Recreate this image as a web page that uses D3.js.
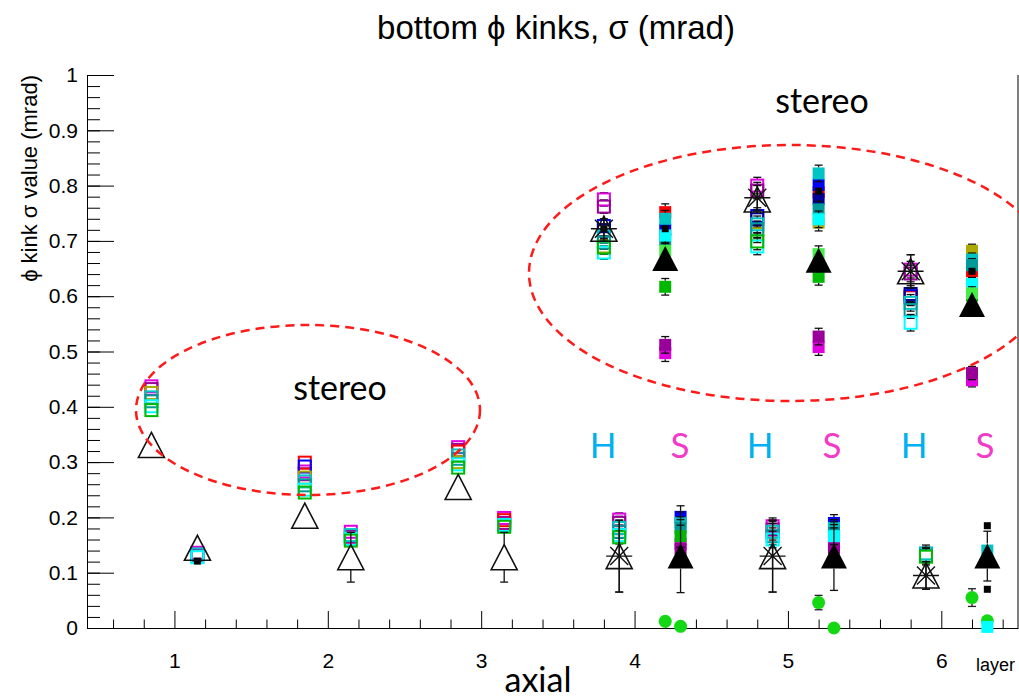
<!DOCTYPE html>
<html lang="en">
<head>
<meta charset="UTF-8">
<script src="https://cdn.jsdelivr.net/npm/d3@7"></script>
<style>
  body { margin: 0; background: #fff; }
  svg text { font-family: "Liberation Sans", Arial, sans-serif; }
  .note { font-family: Lato, "Open Sans", sans-serif; }
</style>
</head>
<body>
<div id="chart"></div>
<script>
// sensor positions on the layer axis (layer -/+ offset for the two sensors)
const sensorX    = [0.85, 1.15, 1.85, 2.15, 2.85, 3.15, 3.8, 3.9, 4.2, 4.3, 4.8, 4.9, 5.2, 5.3, 5.8, 5.9, 6.2, 6.3];
const sensorType = ['stereo','axial','stereo','axial','stereo','axial','H','H','S','S','H','H','S','S','H','H','S','S'];

// per-run sigma values (mrad), one entry per sensor, null = no point
const runMagenta  = [.437,.136,.283,.174,.327,.199,.775,.196,.497,.152,.800,.184,.508,.150,.648,null,.448,null];
const runPurple   = [.432,.131,.278,.165,.322,.190,.762,.190,.512,.143,.791,.178,.527,.144,.641,null,.461,null];
const runRed      = [null,null,.299,null,.319,.195,null,null,.752,null,null,null,.788,null,.598,null,.645,null];
const runBlue     = [null,null,.292,null,null,null,.727,null,.720,.201,.745,null,.801,.190,.600,null,null,null];
const runNavy     = [null,null,null,null,null,null,.719,null,null,null,.739,null,.776,null,.604,null,null,null];
const runOlive    = [.425,null,.272,null,.300,null,.690,null,null,null,.712,null,.733,null,null,null,.682,null];
const runTeal     = [.417,.133,.265,.168,.312,.186,.708,.181,.740,.190,.730,.174,.822,.181,.588,.135,.666,.140];
const runDarkTeal = [.410,null,.258,null,.306,null,.697,.174,.703,.181,.721,.166,.757,.172,.575,.131,.656,null];
const runCyan     = [.401,.128,.250,.161,.296,.186,.679,.168,.710,null,.690,.160,.739,.166,.552,null,.622,.002];
const runGreen    = [.394,null,.245,.158,.290,.183,.688,.164,.617,.166,.699,null,.635,null,null,.129,.601,null];
const runLime     = [null,null,null,null,null,null,null,null,.682,null,null,null,.676,null,null,null,.605,null];
const runBlack    = [null,.121,null,null,null,null,.722,null,.722,null,null,null,.790,null,null,null,.645,.185];
const runBlackLow = [null,null,null,null,null,null,null,null,null,null,null,null,null,null,null,null,null,.070];
const runErr      = [0,.010,0,.010,.005,.010,.012,.012,.015,.020,.015,.015,.015,.015,.015,.015,.012,0];

// averages
const openTri     = [.331,.145,.203,.128,.255,.128,.722,.130,null,null,.775,.130,null,null,.645,.095,null,null];
const openTriErr  = [0,0,0,.045,0,.045,.018,.065,0,0,.022,.065,0,0,.030,.025,0,0];
const filledTri   = [null,null,null,null,null,null,null,null,.668,.130,null,null,.665,.130,null,null,.585,.130];
const filledTriErr= [0,0,0,0,0,0,0,0,.022,.066,0,0,.020,.062,0,0,.010,.045];
const starVal     = [null,null,null,null,null,null,.722,.130,null,null,.778,.130,null,null,.645,.095,null,null];
const starErr     = [0,0,0,0,0,0,.018,.065,0,0,.022,.065,0,0,.030,.025,0,0];
const greenDot    = [null,null,null,null,null,null,null,null,.012,.003,null,null,.046,.000,null,null,.055,.013];
const greenDotErr = [0,0,0,0,0,0,0,0,.010,0,0,0,.013,0,0,0,.016,0];

const yTicks = [0, 0.1, 0.2, 0.3, 0.4, 0.5, 0.6, 0.7, 0.8, 0.9, 1];
const xTicks = [1, 2, 3, 4, 5, 6];

const runs = [runMagenta, runPurple, runRed, runBlue, runNavy, runOlive, runTeal, runDarkTeal, runCyan, runGreen, runLime];
const runColors = ['#e000e0', '#990099', '#ff0000', '#0000ff', '#000099', '#aaaa00', '#00c4c4', '#009a9a', '#00ffff', '#00b800', '#44ee44'];

const W = 1019, H = 698;
const x = d3.scaleLinear().domain([0.43, 6.5]).range([87, 1018]);
const y = d3.scaleLinear().domain([0, 1]).range([628, 75]);

const svg = d3.select('#chart').append('svg')
    .attr('width', W)
    .attr('height', H);

// frame right edge
svg.append('line')
    .attr('x1', 1018).attr('x2', 1018)
    .attr('y1', y(0)).attr('y2', y(1))
    .attr('stroke', '#000').attr('stroke-width', 1);

// axes
const fmt = d => d3.format('~g')(+d.toFixed(1));
svg.append('g')
    .attr('transform', 'translate(' + x(0.43) + ',0)')
    .call(d3.axisLeft(y).tickValues(yTicks).tickSize(-27).tickSizeOuter(0).tickPadding(9).tickFormat(fmt));
svg.append('g')
    .attr('transform', 'translate(' + x(0.43) + ',0)')
    .call(d3.axisLeft(y).tickValues(d3.range(0, 1.001, 0.02)).tickSize(-13).tickFormat(''))
    .call(g => g.select('.domain').remove());

svg.append('g')
    .attr('transform', 'translate(0,' + y(0) + ')')
    .call(d3.axisBottom(x).tickValues(xTicks).tickSize(-17).tickSizeOuter(0).tickPadding(25).tickFormat(d3.format('d')));
svg.append('g')
    .attr('transform', 'translate(0,' + y(0) + ')')
    .call(d3.axisBottom(x).tickValues(d3.range(0.6, 6.5, 0.2).filter(v => Math.abs(v - Math.round(v)) > 0.01)).tickSize(-8.5).tickFormat(''))
    .call(g => g.select('.domain').remove());

svg.selectAll('.tick text').style('font-size', '21px').attr('fill', '#000');
svg.selectAll('.domain, .tick line').attr('stroke', '#000');

// titles
svg.append('text')
    .attr('x', 556).attr('y', 39)
    .attr('text-anchor', 'middle')
    .style('font-size', '33px')
    .text('bottom \u03D5 kinks, \u03C3 (mrad)');

svg.append('text')
    .attr('transform', 'translate(37,75) rotate(-90)')
    .attr('text-anchor', 'end')
    .style('font-size', '22px')
    .text('\u03D5 kink \u03C3 value (mrad)');

svg.append('text')
    .attr('x', 1015).attr('y', 671)
    .attr('text-anchor', 'end')
    .style('font-size', '18px')
    .text('layer');

// error bars, skipping the marker area like ROOT does
function errBars(vals, errs, gap, color) {
    const g = svg.append('g').attr('stroke', color).attr('stroke-width', 1.3);
    vals.forEach((v, i) => {
        if (v === null || !errs[i]) return;
        const cx = x(sensorX[i]);
        const yc = y(v), yt = y(v + errs[i]), yb = y(v - errs[i]);
        if (yc - yt > gap) {
            g.append('line').attr('x1', cx).attr('x2', cx).attr('y1', yt).attr('y2', yc - gap);
            g.append('line').attr('x1', cx - 4).attr('x2', cx + 4).attr('y1', yt).attr('y2', yt);
        }
        if (yb - yc > gap) {
            g.append('line').attr('x1', cx).attr('x2', cx).attr('y1', yc + gap).attr('y2', yb);
            g.append('line').attr('x1', cx - 4).attr('x2', cx + 4).attr('y1', yb).attr('y2', yb);
        }
    });
}

// green circles
errBars(greenDot, greenDotErr, 6, '#222');
svg.append('g').selectAll('circle')
    .data(greenDot.map((v, i) => ({ v, i })).filter(d => d.v !== null))
    .enter().append('circle')
    .attr('cx', d => x(sensorX[d.i]))
    .attr('cy', d => y(d.v))
    .attr('r', 6.5)
    .attr('fill', '#14d814');

// runs: open squares for axial/stereo/H sensors, filled for S
runs.forEach((run, k) => {
    errBars(run, runErr, 6, '#111');
    svg.append('g').selectAll('rect')
        .data(run.map((v, i) => ({ v, i })).filter(d => d.v !== null))
        .enter().append('rect')
        .attr('x', d => x(sensorX[d.i]) - 6)
        .attr('y', d => y(d.v) - 6)
        .attr('width', 12)
        .attr('height', 12)
        .attr('fill', d => sensorType[d.i] === 'S' ? runColors[k] : 'none')
        .attr('stroke', runColors[k])
        .attr('stroke-width', d => sensorType[d.i] === 'S' ? 0 : 2);
});

[runBlack, runBlackLow].forEach(run => {
    svg.append('g').selectAll('rect')
        .data(run.map((v, i) => ({ v, i })).filter(d => d.v !== null))
        .enter().append('rect')
        .attr('x', d => x(sensorX[d.i]) - 3.5)
        .attr('y', d => y(d.v) - 3.5)
        .attr('width', 7)
        .attr('height', 7)
        .attr('fill', '#000');
});

// triangles
const tri = 'M0,-12.5L13,12.5L-13,12.5Z';
errBars(openTri, openTriErr, 12.5, '#111');
svg.append('g').selectAll('path')
    .data(openTri.map((v, i) => ({ v, i })).filter(d => d.v !== null))
    .enter().append('path')
    .attr('d', tri)
    .attr('transform', d => 'translate(' + x(sensorX[d.i]) + ',' + y(d.v) + ')')
    .attr('fill', 'none')
    .attr('stroke', '#111')
    .attr('stroke-width', 1.6);

errBars(filledTri, filledTriErr, 12.5, '#111');
svg.append('g').selectAll('path')
    .data(filledTri.map((v, i) => ({ v, i })).filter(d => d.v !== null))
    .enter().append('path')
    .attr('d', tri)
    .attr('transform', d => 'translate(' + x(sensorX[d.i]) + ',' + y(d.v) + ')')
    .attr('fill', '#000');

// asterisks
errBars(starVal, starErr, 0, '#111');
svg.append('g').selectAll('path')
    .data(starVal.map((v, i) => ({ v, i })).filter(d => d.v !== null))
    .enter().append('path')
    .attr('d', 'M-13,0H13M0,-13V13M-9,-9L9,9M-9,9L9,-9')
    .attr('transform', d => 'translate(' + x(sensorX[d.i]) + ',' + y(d.v) + ')')
    .attr('stroke', '#111')
    .attr('stroke-width', 1.4);

// slide annotations
const notes = svg.append('g').attr('class', 'note');
notes.append('ellipse')
    .attr('cx', 308).attr('cy', 410).attr('rx', 172).attr('ry', 85)
    .attr('fill', 'none').attr('stroke', '#ff1a1a').attr('stroke-width', 2.5).attr('stroke-dasharray', '9,6');
notes.append('ellipse')
    .attr('cx', 790).attr('cy', 273).attr('rx', 261).attr('ry', 128)
    .attr('fill', 'none').attr('stroke', '#ff1a1a').attr('stroke-width', 2.5).attr('stroke-dasharray', '9,6');

notes.append('text').attr('class', 'note').attr('x', 340).attr('y', 400).attr('text-anchor', 'middle')
    .style('font-size', '34px').text('stereo');
notes.append('text').attr('class', 'note').attr('x', 822).attr('y', 113).attr('text-anchor', 'middle')
    .style('font-size', '34px').text('stereo');
notes.append('text').attr('class', 'note').attr('x', 538).attr('y', 692).attr('text-anchor', 'middle')
    .style('font-size', '34px').text('axial');

const hsLabels = [['H', 603], ['S', 680], ['H', 760], ['S', 832], ['H', 914], ['S', 985]];
notes.selectAll('.hs')
    .data(hsLabels)
    .enter().append('text')
    .attr('class', 'note hs')
    .attr('x', d => d[1]).attr('y', 458)
    .attr('text-anchor', 'middle')
    .style('font-size', '35px')
    .attr('fill', d => d[0] === 'H' ? '#00b0f0' : '#f23cc8')
    .text(d => d[0]);
</script>
</body>
</html>
